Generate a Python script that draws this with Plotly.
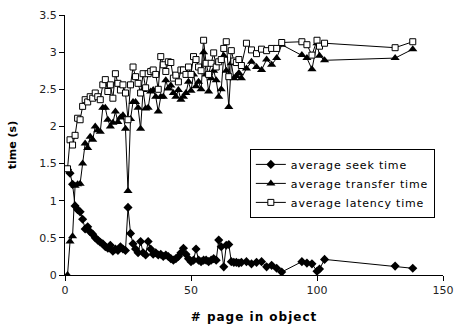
import plotly.graph_objects as go

pages = [1, 2, 3, 4, 5, 6, 7, 8, 9, 10, 11, 12, 13, 14, 15, 16, 17, 18, 19, 20,
         21, 22, 23, 24, 25, 26, 27, 28, 29, 30, 31, 32, 33, 34, 35, 36, 37, 38, 39, 40,
         41, 42, 43, 44, 45, 46, 47, 48, 49, 50, 51, 52, 53, 54, 55, 56, 57, 58, 59, 60,
         61, 62, 63, 64, 65, 66, 67, 68, 69, 70, 72, 74, 76, 78, 80, 82, 84, 86, 94, 96,
         98, 100, 101, 103, 131, 138]

seek_time = [1.42, 1.37, 1.22, 0.93, 0.88, 0.85, 0.75, 0.62, 0.65, 0.58, 0.55, 0.50, 0.47, 0.44, 0.42, 0.38, 0.36, 0.40, 0.32, 0.35,
             0.33, 0.38, 0.35, 0.33, 0.91, 0.56, 0.42, 0.35, 0.30, 0.45, 0.30, 0.27, 0.45, 0.35, 0.28, 0.30, 0.27, 0.28, 0.25, 0.27,
             0.25, 0.22, 0.20, 0.22, 0.25, 0.30, 0.36, 0.28, 0.22, 0.18, 0.20, 0.35, 0.20, 0.18, 0.20, 0.20, 0.18, 0.20, 0.22, 0.20,
             0.47, 0.38, 0.11, 0.40, 0.41, 0.18, 0.17, 0.17, 0.16, 0.17, 0.18, 0.15, 0.17, 0.18, 0.11, 0.13, 0.09, 0.04, 0.18, 0.16,
             0.15, 0.05, 0.08, 0.21, 0.12, 0.09]

transfer_time = [0.00, 0.45, 0.52, 1.20, 1.22, 1.23, 1.50, 1.77, 1.71, 1.86, 1.82, 2.00, 1.95, 1.93, 2.25, 2.25, 2.09, 2.00, 2.05, 2.20,
                 2.06, 2.12, 2.15, 1.97, 1.13, 2.10, 2.33, 2.33, 2.25, 1.97, 2.49, 2.24, 2.25, 2.47, 2.49, 2.40, 2.20, 2.40, 2.40, 2.62,
                 2.51, 2.55, 2.45, 2.40, 2.49, 2.36, 2.40, 2.45, 2.60, 2.48, 2.70, 2.54, 2.60, 2.50, 3.00, 2.70, 2.47, 2.65, 2.75, 2.62,
                 2.40, 2.50, 2.95, 2.75, 2.26, 2.85, 2.65, 2.68, 2.72, 2.65, 2.78, 2.87, 2.80, 2.76, 2.90, 2.83, 2.92, 3.10, 2.96, 2.92,
                 2.77, 3.12, 2.95, 2.89, 2.92, 3.04]

latency_time = [1.43, 1.82, 1.75, 1.88, 2.11, 2.09, 2.27, 2.36, 2.33, 2.40, 2.38, 2.45, 2.40, 2.36, 2.56, 2.63, 2.47, 2.56, 2.38, 2.71,
                2.58, 2.49, 2.56, 2.45, 2.09, 2.56, 2.80, 2.67, 2.58, 2.45, 2.71, 2.52, 2.71, 2.74, 2.76, 2.70, 2.50, 2.94, 2.83, 2.74,
                2.87, 2.86, 2.65, 2.69, 2.60, 2.76, 2.76, 2.70, 2.80, 2.70, 2.94, 2.90, 2.80, 2.75, 3.16, 2.85, 2.70, 2.85, 2.99, 2.80,
                2.87, 2.90, 3.05, 3.14, 2.67, 3.02, 2.88, 2.86, 2.90, 2.82, 3.12, 3.03, 2.98, 3.04, 3.02, 3.05, 3.05, 3.13, 3.14, 3.10,
                2.96, 3.16, 3.08, 3.12, 3.06, 3.14]

y_ticks = [0, 0.5, 1, 1.5, 2, 2.5, 3, 3.5]
y_tick_labels = ["0", "0.5", "1", "1.5", "2", "2.5", "3", "3.5"]
x_ticks = [0, 50, 100, 150]

FONT = "DejaVu Sans"


def spaced(text, px=1.0):
    return f'<span style="letter-spacing:{px}px">{text}</span>'


fig = go.Figure()
fig.add_trace(go.Scatter(
    x=pages, y=seek_time, mode="lines+markers", name=spaced("average seek time", 0.8),
    line=dict(color="black", width=1),
    marker=dict(symbol="diamond", size=7, color="black", line=dict(width=0)),
))
fig.add_trace(go.Scatter(
    x=pages, y=transfer_time, mode="lines+markers", name=spaced("average transfer time", 0.8),
    line=dict(color="black", width=1),
    marker=dict(symbol="triangle-up", size=8, color="black", line=dict(width=0)),
))
fig.add_trace(go.Scatter(
    x=pages, y=latency_time, mode="lines+markers", name=spaced("average latency time", 0.8),
    line=dict(color="black", width=1),
    marker=dict(symbol="square", size=6, color="white", line=dict(color="black", width=1)),
))

fig.update_layout(
    width=455, height=326, autosize=False,
    margin=dict(l=65, r=12, t=15, b=51),
    paper_bgcolor="white", plot_bgcolor="white",
    font=dict(family=FONT, size=11, color="black"),
    legend=dict(
        x=0.489, y=0.485, xanchor="left", yanchor="top",
        bgcolor="white", bordercolor="black", borderwidth=1,
        font=dict(family=FONT, size=11, color="black"),
        tracegroupgap=0, itemwidth=30,
    ),
    showlegend=True,
)
fig.update_xaxes(
    range=[0, 150], tickvals=x_ticks, ticktext=[str(v) for v in x_ticks],
    showgrid=False, zeroline=False, showline=True, linecolor="black", linewidth=1,
    ticks="outside", ticklen=5, tickcolor="black", automargin=False,
    title=dict(text="<b>" + spaced("# page in object") + "</b>", font=dict(family=FONT, size=12), standoff=16),
    tickfont=dict(family=FONT, size=11, color="#222"),
)
fig.update_yaxes(
    range=[0, 3.5], tickvals=y_ticks, ticktext=y_tick_labels,
    showgrid=False, zeroline=False, showline=True, linecolor="black", linewidth=1,
    ticks="outside", ticklen=5, tickcolor="black", automargin=False,
    title=dict(text="<b>time (s)</b>", font=dict(family=FONT, size=11), standoff=20),
    tickfont=dict(family=FONT, size=11, color="#222"),
)

fig.write_html("out.html")
